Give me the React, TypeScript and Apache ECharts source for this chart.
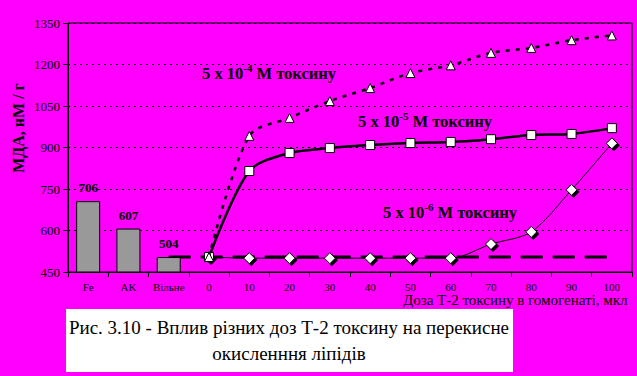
import React, { useEffect, useRef } from "react";
import * as echarts from "echarts";

const categories = ["Fe", "AK", "Вільне", "0", "10", "20", "30", "40", "50", "60", "70", "80", "90", "100"];
const barValues = [706, 607, 504];
const dose4 = [504, 942, 1007, 1068, 1115, 1169, 1197, 1242, 1260, 1288, 1305];
const dose5 = [504, 815, 880, 898, 909, 916, 920, 930, 945, 949, 970];
const dose6 = [504, 500, 500, 500, 500, 500, 500, 551, 595, 747, 915];
const baselineValue = 504;
const yTicks = { min: 450, max: 1350, interval: 150 };

const SERIF = "'Liberation Serif', 'Times New Roman', serif";

function pad(arr: number[]) {
  return ["-", "-", "-", ...arr];
}

export default function App() {
  const ref = useRef<HTMLDivElement>(null);
  useEffect(() => {
    if (!ref.current) return;
    const chart = echarts.init(ref.current, undefined, { renderer: "svg" });
    const barData = categories.map((_, i) => (i < barValues.length ? barValues[i] : "-"));
    const baseData = categories.map((_, i) => (i >= 2 ? baselineValue : "-"));
    const labelRich = {
      a: { fontSize: 16.5, fontWeight: "bold", fontFamily: SERIF, color: "#000", lineHeight: 22 },
      s: { fontSize: 11, fontWeight: "bold", fontFamily: SERIF, color: "#000", verticalAlign: "top", lineHeight: 22 },
    };
    const mkLabel = (x: number, y: number, exp: string) => ({
      type: "text",
      x,
      y,
      style: {
        text: `{a|5 x 10}{s|-${exp}}{a| M токсину}`,
        rich: labelRich,
        verticalAlign: "middle",
        align: "left",
      },
      z: 100,
    });
    chart.setOption({
      animation: false,
      backgroundColor: "#FF00FF",
      grid: {
        left: 68,
        top: 23,
        right: 5,
        bottom: 104,
        show: true,
        borderColor: "#000",
        borderWidth: 1,
        backgroundColor: "transparent",
      },
      xAxis: {
        type: "category",
        data: categories,
        boundaryGap: true,
        axisLine: { lineStyle: { color: "#000", width: 1 } },
        axisTick: { show: true, length: 5, lineStyle: { color: "#000" } },
        axisLabel: { color: "#000", fontSize: 11, fontFamily: SERIF, margin: 9, interval: 0 },
      },
      yAxis: {
        type: "value",
        min: yTicks.min,
        max: yTicks.max,
        interval: yTicks.interval,
        axisLine: { show: true, lineStyle: { color: "#000", width: 1 } },
        axisTick: { show: true, length: 5, lineStyle: { color: "#000" } },
        axisLabel: {
          color: "#000",
          fontSize: 13,
          fontFamily: SERIF,
          margin: 8,
          formatter: (v: number) => String(v),
        },
        splitLine: { show: true, lineStyle: { color: "#000", type: [2, 4], width: 1 } },
      },
      series: [
        {
          type: "line",
          data: baseData,
          symbol: "none",
          lineStyle: { color: "#000", width: 3, type: [22, 10] },
          z: 1,
        },
        {
          type: "bar",
          data: barData,
          barWidth: 24,
          itemStyle: { color: "#999999", borderColor: "#000", borderWidth: 1 },
          label: {
            show: true,
            position: "top",
            distance: 7,
            color: "#000",
            fontSize: 13,
            fontWeight: "bold",
            fontFamily: SERIF,
          },
          z: 2,
        },
        {
          type: "line",
          data: pad(dose6),
          smooth: 0.3,
          symbol: "diamond",
          symbolSize: 11,
          lineStyle: { color: "#000", width: 1 },
          itemStyle: {
            color: "#fff",
            borderColor: "#000",
            borderWidth: 1,
            shadowColor: "#000",
            shadowOffsetX: 2,
            shadowOffsetY: 2,
            shadowBlur: 0,
          },
          z: 3,
        },
        {
          type: "line",
          data: pad(dose5),
          smooth: 0.3,
          symbol: "rect",
          symbolSize: 9,
          lineStyle: { color: "#000", width: 2.5 },
          itemStyle: { color: "#fff", borderColor: "#000", borderWidth: 1 },
          z: 4,
        },
        {
          type: "line",
          data: pad(dose4),
          smooth: 0.3,
          symbol: "triangle",
          symbolSize: 9,
          lineStyle: { color: "#000", width: 2.5, type: [4, 6] },
          itemStyle: { color: "#fff", borderColor: "#000", borderWidth: 1 },
          z: 5,
        },
      ],
      graphic: [
        {
          type: "text",
          x: 18,
          y: 128,
          rotation: Math.PI / 2,
          style: {
            text: "МДА, нМ / г",
            font: `bold 16px ${SERIF}`,
            fill: "#000",
            align: "center",
            verticalAlign: "middle",
          },
        },
        mkLabel(202, 73, "4"),
        mkLabel(358, 121, "5"),
        mkLabel(383, 212, "6"),
        {
          type: "text",
          x: 403,
          y: 300,
          style: {
            text: "Доза Т-2 токсину в гомогенаті, мкл",
            font: `15px ${SERIF}`,
            fill: "#000",
            align: "left",
            verticalAlign: "middle",
          },
          z: 50,
        },
        {
          type: "rect",
          shape: { x: 66, y: 309, width: 447, height: 63 },
          style: { fill: "#fff" },
          z: 60,
        },
        {
          type: "text",
          x: 289,
          y: 327,
          style: {
            text: "Рис. 3.10 - Вплив різних доз Т-2 токсину на перекисне",
            font: `19px ${SERIF}`,
            fill: "#000",
            align: "center",
            verticalAlign: "middle",
          },
          z: 70,
        },
        {
          type: "text",
          x: 289,
          y: 353,
          style: {
            text: "окисленння ліпідів",
            font: `19px ${SERIF}`,
            fill: "#000",
            align: "center",
            verticalAlign: "middle",
          },
          z: 70,
        },
      ],
    });
    return () => chart.dispose();
  }, []);
  return <div ref={ref} style={{ width: 637, height: 376, position: "absolute", left: 0, top: 0 }} />;
}
